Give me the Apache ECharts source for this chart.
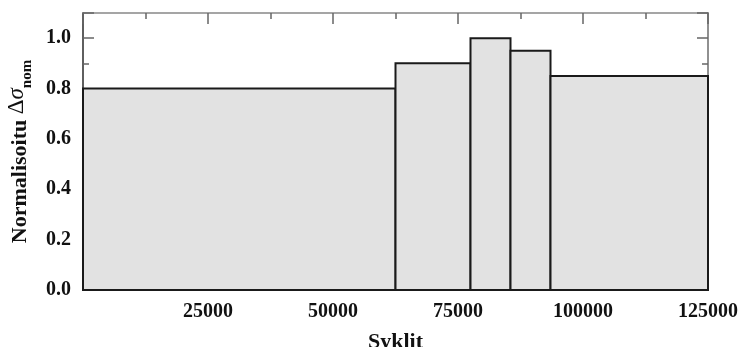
<!DOCTYPE html>
<html>
<head>
<meta charset="utf-8">
<script src="https://cdn.jsdelivr.net/npm/echarts@6/dist/echarts.min.js"></script>
<style>
html,body{margin:0;padding:0;background:#fff;}
#chart{width:740px;height:347px;}
</style>
</head>
<body>
<div id="chart"></div>
<script>
// Data
const binStart = [0, 62500, 77500, 85500, 93500];
const binEnd   = [62500, 77500, 85500, 93500, 125000];
const values   = [0.80, 0.90, 1.00, 0.95, 0.85];
const xTicks = [25000, 50000, 75000, 100000, 125000];
const yTicks = ['0.0','0.2','0.4','0.6','0.8','1.0'];

const FONT = "'Liberation Serif', 'Times New Roman', serif";
const data = binStart.map((s, i) => [s, binEnd[i], values[i]]);

const chart = echarts.init(document.getElementById('chart'), null, {renderer: 'canvas'});

function xAxisBase(pos, showLabel) {
  return {
    type: 'value', position: pos, min: 0, max: 125000, interval: 25000,
    axisLine: {show: true, onZero: false, lineStyle: {color: pos === 'bottom' ? '#333' : '#888', width: 1.5}},
    axisTick: {show: true, inside: true, length: 11, lineStyle: {color: '#666', width: 1.5}},
    minorTick: {show: true, splitNumber: 2, length: 6, lineStyle: {color: '#666', width: 1.5}},
    splitLine: {show: false},
    axisLabel: {
      show: showLabel, margin: 12, color: '#111', fontFamily: FONT, fontWeight: 'bold', fontSize: 20,
      formatter: function (v) { return xTicks.indexOf(v) >= 0 ? String(v) : ''; }
    }
  };
}

function yAxisBase(pos, interval, len, showLabel, lineColor) {
  return {
    type: 'value', position: pos, min: 0, max: 1.1, interval: interval,
    axisLine: {show: true, onZero: false, lineStyle: {color: lineColor, width: 1.5}},
    axisTick: {show: true, inside: true, length: len, lineStyle: {color: '#666', width: 1.5}},
    splitLine: {show: false},
    axisLabel: {
      show: showLabel, margin: 12, color: '#111', fontFamily: FONT, fontWeight: 'bold', fontSize: 20,
      formatter: function (v) {
        const s = v.toFixed(1);
        return yTicks.indexOf(s) >= 0 && Math.abs(v - parseFloat(s)) < 1e-6 ? s : '';
      }
    }
  };
}

const x0 = xAxisBase('bottom', true);
x0.name = 'Syklit';
x0.nameLocation = 'middle';
x0.nameGap = 41;
x0.nameTextStyle = {fontFamily: FONT, fontWeight: 'bold', fontSize: 22, color: '#111'};

const y0 = yAxisBase('left', 0.2, 11, true, '#555');
y0.name = '{a|Normalisoitu }{b|Δ}{c|σ}{d|nom}';
y0.nameLocation = 'middle';
y0.nameGap = 46;
y0.nameTextStyle = {
  color: '#111', fontFamily: FONT,
  rich: {
    a: {fontFamily: FONT, fontWeight: 'bold', fontSize: 22, lineHeight: 30, color: '#111', verticalAlign: 'middle'},
    b: {fontFamily: FONT, fontWeight: 'normal', fontSize: 23, lineHeight: 24, color: '#111', verticalAlign: 'top'},
    c: {fontFamily: FONT, fontStyle: 'italic', fontSize: 23, lineHeight: 24, color: '#111', verticalAlign: 'top'},
    d: {fontFamily: FONT, fontWeight: 'bold', fontSize: 15, lineHeight: 20, color: '#111', verticalAlign: 'bottom'}
  }
};

const option = {
  animation: false,
  backgroundColor: '#fff',
  grid: {left: 83, right: 32, top: 13, bottom: 57, containLabel: false, outerBoundsMode: 'none'},
  xAxis: [x0, xAxisBase('top', false)],
  yAxis: [
    y0,
    yAxisBase('left', 0.1, 6, false, '#555'),
    yAxisBase('right', 0.2, 11, false, '#888'),
    yAxisBase('right', 0.1, 6, false, '#888')
  ],
  series: [{
    type: 'custom',
    xAxisIndex: 0, yAxisIndex: 0,
    encode: {x: [0, 1], y: 2},
    data: data,
    renderItem: function (params, api) {
      const p0 = api.coord([api.value(0), api.value(2)]);
      const p1 = api.coord([api.value(1), 0]);
      return {
        type: 'rect',
        shape: {x: p0[0], y: p0[1], width: p1[0] - p0[0], height: p1[1] - p0[1]},
        style: {fill: '#e2e2e2', stroke: '#1a1a1a', lineWidth: 2}
      };
    }
  }]
};
chart.setOption(option);
</script>
</body>
</html>
